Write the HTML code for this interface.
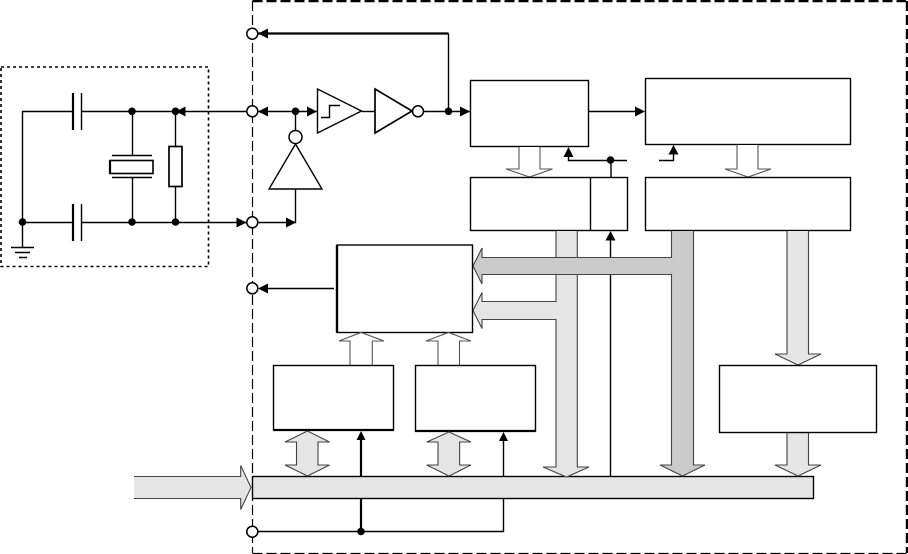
<!DOCTYPE html>
<html><head><meta charset="utf-8"><style>
html,body{margin:0;padding:0;background:#fff;width:908px;height:554px;overflow:hidden}
svg{display:block}
.w{fill:none;stroke:#000;stroke-width:1.4}
.t{fill:none;stroke:#000;stroke-width:2.2}
.b{fill:#fff;stroke:#000;stroke-width:1.4}
.a{fill:#000;stroke:none}
.l{fill:#e5e5e5;stroke:#444;stroke-width:1.1}
.d{fill:#cbcbcb;stroke:#444;stroke-width:1.1}
.h{fill:#fff;stroke:#555;stroke-width:1.1}
.o{fill:#fff;stroke:#000;stroke-width:1.5}
</style></head><body>
<svg width="908" height="554" viewBox="0 0 908 554" xmlns="http://www.w3.org/2000/svg">
<!-- boundaries -->
<path d="M252.5 1H906" fill="none" stroke="#000" stroke-width="2.4" stroke-dasharray="10 4"/>
<path d="M907 1V553" fill="none" stroke="#000" stroke-width="2.4" stroke-dasharray="10 4"/>
<path d="M252.5 553.5H907" fill="none" stroke="#000" stroke-width="1.2" stroke-dasharray="10 4"/>
<path d="M252.5 1V553" fill="none" stroke="#000" stroke-width="1.2" stroke-dasharray="10 4"/>
<rect x="1" y="67" width="207.5" height="199.5" fill="none" stroke="#000" stroke-width="1.6" stroke-dasharray="3 3"/>

<!-- external circuit -->
<path class="w" d="M252 111.5H22.5V247M22.5 222.5H252"/>
<rect x="73.5" y="90" width="8" height="44" fill="#fff"/>
<rect x="73.5" y="200" width="8" height="44" fill="#fff"/>
<path class="t" d="M73 93V130M73 204V241"/>
<path class="w" d="M81.5 93V130M81.5 204V241"/>
<path class="w" d="M132.5 111.5V155M132.5 178V222M175.5 111.5V146M175.5 186V222"/>
<path class="w" d="M112 155.5H152M112 177.5H152"/>
<rect x="110" y="160.5" width="43" height="13" class="b" style="stroke-width:1.6"/>
<path d="M110 160V174" stroke="#000" stroke-width="2.2"/>
<rect x="169" y="146.5" width="13" height="40" class="b" style="stroke-width:1.7"/>
<path class="w" d="M11 247.5H34M15 252.5H30M19 257.5H27"/>
<g class="a">
<circle cx="22.5" cy="222" r="3.8"/><circle cx="132" cy="111.3" r="3.8"/><circle cx="132" cy="222" r="3.8"/>
<circle cx="175.5" cy="111.3" r="3.8"/><circle cx="175.5" cy="222" r="3.8"/>
<path d="M176 111.5L185.5 106.5V116.5Z"/>
</g>

<!-- oscillator -->
<path class="w" d="M258 111.5H317"/>
<path class="w" d="M295.5 111V131"/>
<path class="w" d="M258 222.5H295.5V189"/>
<path class="t" d="M258 33.5H448.5" />
<path class="w" d="M448.5 33.5V111.5"/>
<path class="b" d="M317.5 89L361.5 111L317.5 133Z"/>
<path class="w" d="M321 117.5H329.5V105.5H340"/>
<path class="w" d="M362 111.5H375"/>
<path class="b" d="M375 89L412 111L375 133Z" style="stroke-width:1.7"/>
<path class="w" d="M424 111.5H470"/>
<path class="b" d="M295.5 144L322 189H269Z"/>
<circle class="o" cx="295.5" cy="137" r="6.5"/>
<circle class="o" cx="418" cy="111.3" r="5.5"/>
<g class="a">
<circle cx="295.5" cy="111.3" r="3.8"/><circle cx="448.5" cy="111.3" r="3.8"/>
<path d="M258 33.5L268 28.5V38.5Z"/><path d="M258 111.5L268 106.5V116.5Z"/>
<path d="M246.5 222.5L236.5 217.5V227.5Z"/>
<path d="M296 222.5L286 217.5V227.5Z"/><path d="M317 111.5L307 106.5V116.5Z"/>
<path d="M470 111.5L460 106.5V116.5Z"/><path d="M645 111.5L635 106.5V116.5Z"/>
<path d="M258 288.5L268 283.5V293.5Z"/>
</g>

<!-- upper blocks -->
<rect class="b" x="470.5" y="80.5" width="118" height="66"/>
<rect class="b" x="645.5" y="78.5" width="205" height="66"/>
<path class="w" d="M589 111.5H636"/>
<path class="h" d="M519 147V169H506L529.5 177L552.5 169H540V147" />
<path class="h" d="M737 145V169H725L748 177L771 169H758V145" />
<rect class="b" x="470.5" y="177.5" width="157" height="53"/>
<path class="w" d="M590.5 177.5V230.5"/>
<rect class="b" x="645.5" y="177.5" width="205" height="53"/>
<path class="w" d="M611 177V160.5M568.5 156V160.5H627M659 160.5H673.5V154"/>
<g class="a">
<circle cx="610.5" cy="160" r="3.8"/>
<path d="M568.5 147L563.5 157H573.5Z"/><path d="M673.5 145L668.5 154.5H678.5Z"/>
</g>

<!-- main bus bar -->
<rect x="252.5" y="476.5" width="561" height="22" fill="#e5e5e5" stroke="#000" stroke-width="1.4"/>
<path class="l" d="M134 476.5H240.7V465.5L251 487.5L240.7 509.5V498.5H134" />
<rect x="134" y="477.2" width="107" height="20.6" fill="#e5e5e5"/>

<!-- buses -->
<path class="l" d="M556 231V467H543L566.5 477L589 467H577.3V231"/>
<path d="M610.5 477V238" class="w"/>
<path class="a" d="M610.5 231L605.5 240.5H615.5Z"/>
<path class="l" d="M556 301.5H482V292.5L473 310.5L482 328.5V319.5H556"/>
<rect x="550" y="302.2" width="7" height="16.7" fill="#e5e5e5"/>
<path class="d" d="M671.5 231V257.5H482V248L473 266L482 284V274.5H671.5V465H660L682.5 476L705 465H693.5V231"/>
<path class="l" d="M787 231V354H775L798 365L821 354H808.5V231"/>
<path class="l" d="M787 432.5V465H775L798 476L821 465H808.5V432.5"/>
<rect class="b" x="719.5" y="365.5" width="157" height="67"/>

<!-- mid block -->
<rect class="b" x="337" y="245" width="135.5" height="87.5"/>
<path d="M337 245V332.5" stroke="#000" stroke-width="2.4"/>
<path class="w" d="M334 288.5H266"/>
<path class="h" d="M350 365V341H339L361 332.5L384 341H372.3V365"/>
<path class="h" d="M438 365V341H426L448.5 332.5L471 341H459.5V365"/>

<!-- lower blocks -->
<rect class="b" x="273.5" y="365.5" width="120" height="64.5"/>
<path d="M273 430H394" stroke="#000" stroke-width="2.2"/>
<rect class="b" x="415.5" y="365.5" width="120" height="65.5"/>
<path d="M415 431H536" stroke="#000" stroke-width="2.2"/>
<path class="l" d="M307.5 431L329.5 442H318V465H329.5L307.5 476L285 465H296.5V442H285Z"/>
<path class="l" d="M449 432L471 442H459.6V465H471L449 476L426.7 465H438V442H426.7Z"/>
<path class="t" d="M361 476V439M361 498V531"/>
<path class="w" d="M503.5 476V440"/>
<path class="w" d="M258 531.5H503.5V498"/>
<g class="a">
<path d="M361 431L356.5 440H365.5Z"/>
<path d="M503.5 432L499 441H508Z"/>
<circle cx="361" cy="531.5" r="3.8"/>
</g>

<!-- pads -->
<circle class="o" cx="252.3" cy="33.7" r="5.5"/>
<circle class="o" cx="252.3" cy="111.3" r="5.5"/>
<circle class="o" cx="252.3" cy="222.3" r="5.5"/>
<circle class="o" cx="252.3" cy="288.3" r="5.5"/>
<circle class="o" cx="252.3" cy="531.7" r="5.5"/>
</svg>
</body></html>
